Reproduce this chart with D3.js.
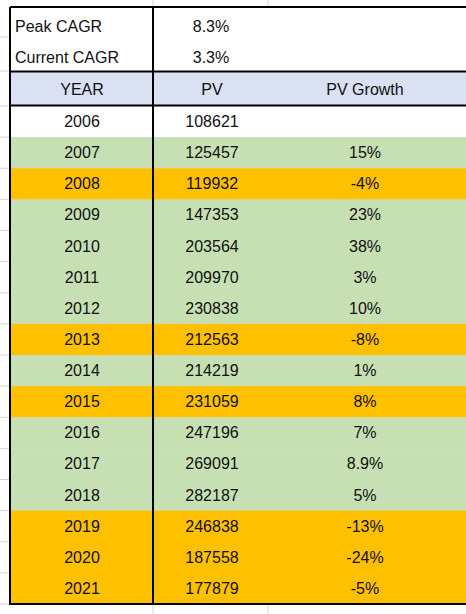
<!DOCTYPE html>
<html><head><meta charset="utf-8">
<script src="https://cdn.jsdelivr.net/npm/d3@7"></script>
<style>body{margin:0;background:#fff}</style></head>
<body><svg id="c" width="466" height="614"></svg>
<script>
const summaryLabels=["Peak CAGR","Current CAGR"];
const summaryValues=["8.3%","3.3%"];
const headers=["YEAR","PV","PV Growth"];
const years=[2006,2007,2008,2009,2010,2011,2012,2013,2014,2015,2016,2017,2018,2019,2020,2021];
const pv=[108621,125457,119932,147353,203564,209970,230838,212563,214219,231059,247196,269091,282187,246838,187558,177879];
const growth=["","15%","-4%","23%","38%","3%","10%","-8%","1%","8%","7%","8.9%","5%","-13%","-24%","-5%"];
const status=["none","up","down","up","up","up","up","down","up","down","up","up","up","down","down","down"];

const svg=d3.select("#c");
const font="'Liberation Sans', Arial, sans-serif";
const color={none:"#ffffff",up:"#C6E0B4",down:"#FFC000"};
const L=10,R=470,D=153,T0=7;
const y=d3.scaleBand().domain(d3.range(years.length)).range([106,604]);
const grid="#d4d4d4";
[153,268].forEach(x=>{svg.append("line").attr("x1",x).attr("x2",x).attr("y1",0).attr("y2",614).attr("stroke",grid);});
[37,71,106].concat(y.domain().map(i=>y(i)+y.bandwidth())).forEach(v=>{svg.append("line").attr("x1",0).attr("x2",L).attr("y1",v).attr("y2",v).attr("stroke",grid);});
svg.append("rect").attr("x",L).attr("y",T0).attr("width",R-L).attr("height",604-T0).attr("fill","#fff");
svg.append("rect").attr("x",L).attr("y",72).attr("width",R-L).attr("height",34).attr("fill","#D9E1F2");
svg.selectAll("rect.row").data(years).join("rect").attr("class","row")
 .attr("x",L).attr("y",(d,i)=>y(i)).attr("width",R-L).attr("height",y.bandwidth()+0.5)
 .attr("fill",(d,i)=>color[status[i]]);
const txt=(x,yy,t,anchor)=>svg.append("text").attr("x",x).attr("y",yy).attr("text-anchor",anchor||"middle")
 .attr("dominant-baseline","central").attr("font-family",font).attr("font-size",16).attr("fill","#111").text(t);
summaryLabels.forEach((t,i)=>{txt(15,[26,57][i],t,"start");txt(211,[26,57][i],summaryValues[i]);});
[82,212,365].forEach((x,i)=>txt(x,89,headers[i]));
years.forEach((yr,i)=>{const c=y(i)+y.bandwidth()/2;txt(82,c,yr);txt(212,c,pv[i]);if(growth[i])txt(365,c,growth[i]);});
const b=(x1,y1,x2,y2)=>svg.append("line").attr("x1",x1).attr("y1",y1).attr("x2",x2).attr("y2",y2).attr("stroke","#000").attr("stroke-width",2);
b(L,T0,R,T0);b(L,T0,L,605);b(L,604,R,604);b(D,T0,D,605);b(L,71.5,R,71.5);b(L,105.5,R,105.5);
</script></body></html>
